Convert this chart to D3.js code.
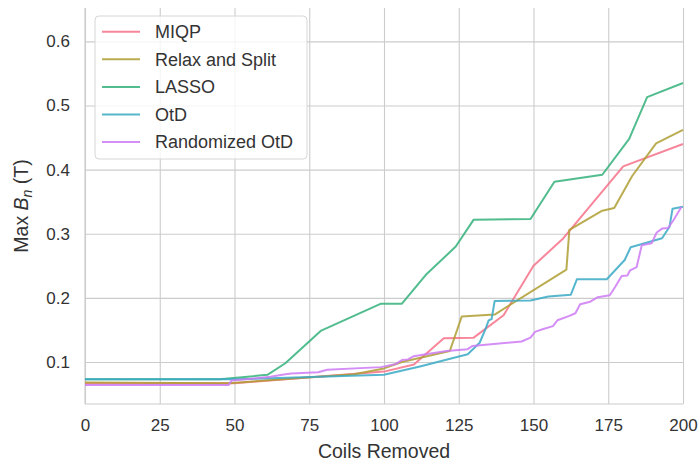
<!DOCTYPE html>
<html>
<head>
<meta charset="utf-8">
<script src="https://cdn.jsdelivr.net/npm/d3@7"></script>
<style>
  html, body { margin: 0; padding: 0; background: #ffffff; }
  svg { display: block; font-family: "Liberation Sans", Arial, sans-serif; }
</style>
</head>
<body>
<svg id="chart" width="698" height="466"></svg>
<script>
// Max normal field vs. number of coils removed, one series per method
const seriesNames = ["MIQP", "Relax and Split", "LASSO", "OtD", "Randomized OtD"];
const seriesColors = ["#f77189", "#ae9d31", "#33b07a", "#38a9c5", "#cc7af4"];

const miqp = [
  [0, 0.067], [50, 0.067], [100, 0.085], [110, 0.096], [120, 0.137], [130, 0.138],
  [140, 0.173], [150, 0.250], [160, 0.293], [180, 0.405], [200, 0.440]
];
const relaxSplit = [
  [0, 0.068], [48, 0.067], [90, 0.081], [100, 0.090], [106, 0.100], [122, 0.117],
  [126, 0.171], [137, 0.174], [161, 0.244], [162, 0.306], [173, 0.336], [177, 0.340],
  [183, 0.390], [191, 0.441], [200, 0.462]
];
const lasso = [
  [0, 0.073], [45, 0.073], [61, 0.080], [67, 0.098], [79, 0.149], [99, 0.191],
  [106, 0.191], [114, 0.236], [124, 0.280], [130, 0.322], [149, 0.323], [157, 0.381],
  [173, 0.392], [182, 0.448], [188, 0.513], [200, 0.535]
];
const otd = [
  [0, 0.073], [50, 0.073], [100, 0.080], [112, 0.093], [128, 0.112], [132, 0.130],
  [134, 0.152], [135, 0.165], [136, 0.167], [137, 0.195], [149, 0.196], [155, 0.202],
  [162.5, 0.205], [164.5, 0.229], [174.5, 0.229], [180.5, 0.259], [182.5, 0.279],
  [193, 0.293], [195.5, 0.311], [196.5, 0.339], [200, 0.342]
];
const randomizedOtd = [
  [0, 0.064], [48, 0.064], [49, 0.071], [54, 0.073], [62, 0.077], [67, 0.081],
  [69, 0.082], [78, 0.084], [81, 0.088], [99, 0.092], [104, 0.097], [106, 0.103],
  [108, 0.104], [110, 0.109], [115, 0.113], [121, 0.117], [128, 0.120], [129.5, 0.125],
  [146, 0.132], [149, 0.138], [150.5, 0.147], [153, 0.151], [156.5, 0.156], [158, 0.165],
  [162, 0.172], [164, 0.176], [165.6, 0.190], [169, 0.194], [171.5, 0.201], [175.5, 0.204],
  [177.3, 0.217], [179.5, 0.234], [181.4, 0.235], [182.3, 0.243], [184.5, 0.248],
  [186.2, 0.282], [189.5, 0.285], [191.2, 0.302], [193, 0.308], [195, 0.309],
  [196.8, 0.321], [199.5, 0.342]
];
const seriesData = [miqp, relaxSplit, lasso, otd, randomizedOtd];

const xTicks = [0, 25, 50, 75, 100, 125, 150, 175, 200];
const yTicks = [0.1, 0.2, 0.3, 0.4, 0.5, 0.6];

const svg = d3.select("#chart");
const margin = { left: 85, right: 15, top: 8, bottom: 62 };
const W = 698, H = 466;
const plotW = W - margin.left - margin.right;
const plotH = H - margin.top - margin.bottom;

const x = d3.scaleLinear().domain([0, 200]).range([0, plotW]);
const y = d3.scaleLinear().domain([0.0345, 0.652]).range([plotH, 0]);

const g = svg.append("g").attr("transform", `translate(${margin.left},${margin.top})`);

// grid lines
g.append("g")
  .attr("class", "xgrid")
  .attr("transform", `translate(0,${plotH})`)
  .call(d3.axisBottom(x).tickValues(xTicks).tickSize(-plotH).tickFormat(""))
  .call(a => a.select(".domain").remove())
  .call(a => a.selectAll("line").attr("stroke", "#cccccc").attr("stroke-width", 1.1));

g.append("g")
  .attr("class", "ygrid")
  .call(d3.axisLeft(y).tickValues(yTicks).tickSize(-plotW).tickFormat(""))
  .call(a => a.select(".domain").remove())
  .call(a => a.selectAll("line").attr("stroke", "#cccccc").attr("stroke-width", 1.1));

// left and bottom spines
g.append("line").attr("x1", 0).attr("x2", 0).attr("y1", 0).attr("y2", plotH)
  .attr("stroke", "#cccccc").attr("stroke-width", 1.1);
g.append("line").attr("x1", 0).attr("x2", plotW).attr("y1", plotH).attr("y2", plotH)
  .attr("stroke", "#cccccc").attr("stroke-width", 1.1);

// tick labels
const xAxis = g.append("g")
  .attr("transform", `translate(0,${plotH})`)
  .call(d3.axisBottom(x).tickValues(xTicks).tickSize(0).tickPadding(15).tickFormat(d3.format("d")));
xAxis.select(".domain").remove();
xAxis.selectAll("text").attr("font-size", 17).attr("fill", "#333333")
  .attr("font-family", "Liberation Sans, Arial, sans-serif");

const yAxis = g.append("g")
  .call(d3.axisLeft(y).tickValues(yTicks).tickSize(0).tickPadding(15).tickFormat(d3.format(".1f")));
yAxis.select(".domain").remove();
yAxis.selectAll("text").attr("font-size", 17).attr("fill", "#333333")
  .attr("font-family", "Liberation Sans, Arial, sans-serif");

// series lines
const line = d3.line().x(d => x(d[0])).y(d => y(d[1]));
seriesData.forEach((data, i) => {
  g.append("path")
    .datum(data)
    .attr("fill", "none")
    .attr("stroke", seriesColors[i])
    .attr("stroke-opacity", 0.85)
    .attr("stroke-width", 2)
    .attr("stroke-linejoin", "round")
    .attr("d", line);
});

// axis labels
svg.append("text")
  .attr("x", margin.left + plotW / 2)
  .attr("y", 458)
  .attr("text-anchor", "middle")
  .attr("font-size", 19.5)
  .attr("fill", "#333333")
  .text("Coils Removed");

const yLabel = svg.append("text")
  .attr("transform", `translate(28,${margin.top + plotH / 2}) rotate(-90)`)
  .attr("text-anchor", "middle")
  .attr("font-size", 19.5)
  .attr("fill", "#333333");
yLabel.append("tspan").text("Max ");
yLabel.append("tspan").attr("font-style", "italic").text("B");
yLabel.append("tspan").attr("font-style", "italic").attr("font-size", 14).attr("dy", 4).text("n");
yLabel.append("tspan").attr("dy", -4).text(" (T)");

// legend
const legend = svg.append("g").attr("transform", "translate(95,16)");
legend.append("rect")
  .attr("width", 212).attr("height", 143)
  .attr("rx", 4).attr("ry", 4)
  .attr("fill", "#ffffff").attr("fill-opacity", 0.8)
  .attr("stroke", "#d6d6d6").attr("stroke-width", 1);
seriesNames.forEach((name, i) => {
  const yy = 15.7 + i * 27.6;
  legend.append("line")
    .attr("x1", 7).attr("x2", 45).attr("y1", yy).attr("y2", yy)
    .attr("stroke", seriesColors[i]).attr("stroke-opacity", 0.85).attr("stroke-width", 2);
  legend.append("text")
    .attr("x", 60).attr("y", yy).attr("dy", "0.35em")
    .attr("font-size", 18).attr("fill", "#333333")
    .text(name);
});
</script>
</body>
</html>
